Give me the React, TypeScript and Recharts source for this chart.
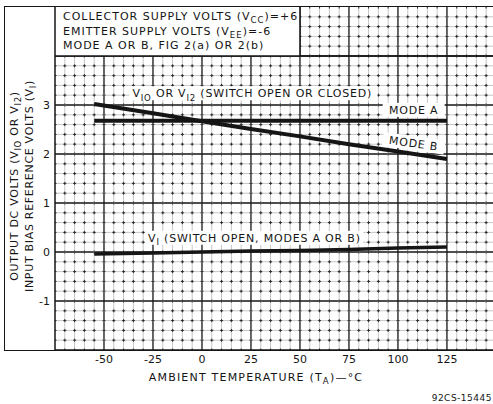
import React from "react";
import {
  LineChart,
  Line,
  XAxis,
  YAxis,
  CartesianGrid,
  ReferenceArea,
  ReferenceLine,
  ReferenceDot,
} from "recharts";

const W = 493;
const H = 404;
const FONT = "'DejaVu Sans', sans-serif";
const INK = "#151515";

// ambient temperature (°C) where values were read
const temps = [-55, -25, 0, 25, 50, 75, 100, 125];
// V10 / V12, mode A
const modeA = [2.68, 2.68, 2.68, 2.68, 2.68, 2.68, 2.68, 2.68];
// V10 / V12, mode B
const modeB = [3.02, 2.83, 2.67, 2.51, 2.36, 2.2, 2.05, 1.9];
// VI, switch open
const vI = [-0.04, -0.02, 0, 0.02, 0.03, 0.05, 0.08, 0.1];

const xTicks = [-50, -25, 0, 25, 50, 75, 100, 125];
const yTicks = [-1, 0, 1, 2, 3];
const yMajor = [-1, 0, 1, 2, 3, 4];

const X_MIN = -75;
const X_MAX = 148.5;
const Y_MIN = -2;
const Y_MAX = 5;
// legend box corner (data units)
const BOX_X = 50;
const BOX_Y = 4;

// fine graph-paper rulings: 5 °C and 0.2 V
const xMinor: number[] = [];
for (let t = -70; t <= 145; t += 5) if (t % 25 !== 0) xMinor.push(t);
const yMinor: number[] = [];
for (let k = -9; k <= 24; k++) if (k % 5 !== 0) yMinor.push(k / 5);

const data = temps.map((t, i) => ({ t, modeA: modeA[i], modeB: modeB[i], vI: vI[i] }));

type Part = string | { sub: string };

function spans(parts: Part[], size: number) {
  const out: React.ReactNode[] = [];
  let down = false;
  parts.forEach((p, i) => {
    if (typeof p === "string") {
      out.push(
        <tspan key={i} dy={down ? -size * 0.3 : undefined} fontSize={size}>
          {p}
        </tspan>,
      );
      down = false;
    } else {
      out.push(
        <tspan key={i} dy={size * 0.3} fontSize={size * 0.78}>
          {p.sub}
        </tspan>,
      );
      down = true;
    }
  });
  return out;
}

function Note(props: any) {
  const { cx, cy, parts, anchor = "start", angle = 0, width } = props;
  const x0 = anchor === "middle" ? cx - width / 2 : cx;
  return (
    <g transform={angle ? `rotate(${angle} ${cx} ${cy})` : undefined}>
      <rect x={x0 - 3} y={cy - 7} width={width + 6} height={14} fill="#fff" />
      <text
        x={cx}
        y={cy + 4}
        textAnchor={anchor}
        fontFamily={FONT}
        fill={INK}
        letterSpacing={0.8}
      >
        {spans(parts, 11)}
      </text>
    </g>
  );
}

function BoxText(props: any) {
  const { x, y } = props.viewBox;
  const lines: Part[][] = [
    ["COLLECTOR SUPPLY VOLTS (V", { sub: "CC" }, ")=+6"],
    ["EMITTER SUPPLY VOLTS (V", { sub: "EE" }, ")=-6"],
    ["MODE A OR B, FIG 2(a) OR 2(b)"],
  ];
  return (
    <g>
      {lines.map((l, i) => (
        <text
          key={i}
          x={x + 8}
          y={y + 13 + i * 14.5}
          fontFamily={FONT}
          fill={INK}
          letterSpacing={1}
        >
          {spans(l, 11)}
        </text>
      ))}
    </g>
  );
}

function YLabel() {
  const cy = 186;
  const rows: { x: number; parts: Part[] }[] = [
    { x: 18, parts: ["OUTPUT DC VOLTS (V", { sub: "IO" }, " OR V", { sub: "I2" }, ")"] },
    { x: 33, parts: ["INPUT BIAS REFERENCE VOLTS (V", { sub: "I" }, ")"] },
  ];
  return (
    <g>
      {rows.map((r, i) => (
        <text
          key={i}
          x={r.x}
          y={cy}
          transform={`rotate(-90 ${r.x} ${cy})`}
          textAnchor="middle"
          fontFamily={FONT}
          fill={INK}
          letterSpacing={0.7}
        >
          {spans(r.parts, 11)}
        </text>
      ))}
    </g>
  );
}

function XLabel() {
  return (
    <g>
      <text x={256} y={381} textAnchor="middle" fontFamily={FONT} fill={INK} letterSpacing={1.2}>
        {spans(["AMBIENT TEMPERATURE (T", { sub: "A" }, ")—°C"], 11)}
      </text>
      <text x={492} y={401} textAnchor="end" fontFamily={FONT} fontSize={9} fill={INK} letterSpacing={0.5}>
        92CS-15445
      </text>
    </g>
  );
}

// faint ruling with dark "+" marks where the fine lines cross
const faint = { stroke: "#c6c6c6", strokeWidth: 1 };
const marks = { stroke: "#2a2a2a", strokeWidth: 1, strokeDasharray: "3 6.8", strokeDashoffset: 1.5 };

function vSeg(t: number) {
  const top = t < BOX_X ? BOX_Y : Y_MAX;
  return [
    { x: t, y: Y_MIN },
    { x: t, y: top },
  ];
}
function hSeg(v: number) {
  const left = v > BOX_Y ? BOX_X : X_MIN;
  return [
    { x: left, y: v },
    { x: X_MAX, y: v },
  ];
}

export default function App() {
  return (
    <div
      style={{
        position: "absolute",
        left: 0,
        top: 0,
        width: W,
        height: H,
        overflow: "hidden",
        background: "#fff",
      }}
    >
      <LineChart width={W} height={H} data={data} margin={{ top: 7, right: 0, left: 0, bottom: 0 }}>
        <CartesianGrid
          verticalValues={xTicks}
          horizontalValues={yMajor}
          stroke={INK}
          strokeWidth={1.3}
        />
        <XAxis
          dataKey="t"
          type="number"
          domain={[X_MIN, X_MAX]}
          ticks={xTicks}
          allowDataOverflow
          height={54}
          tickSize={0}
          tickMargin={5}
          axisLine={{ stroke: INK, strokeWidth: 1.5 }}
          tick={{ fontSize: 11, fontFamily: FONT, fill: INK }}
          label={<XLabel />}
        />
        <YAxis
          type="number"
          domain={[Y_MIN, Y_MAX]}
          ticks={yTicks}
          allowDataOverflow
          width={55}
          tickSize={0}
          tickMargin={5}
          axisLine={{ stroke: INK, strokeWidth: 1.5 }}
          tick={{ fontSize: 11, fontFamily: FONT, fill: INK }}
          label={<YLabel />}
        />
        <ReferenceArea
          x1={X_MIN}
          x2={BOX_X}
          y1={BOX_Y}
          y2={Y_MAX}
          fill="#fff"
          fillOpacity={1}
          stroke="none"
          label={(p: any) => <BoxText {...p} />}
        />
        {xMinor.map((t) => (
          <ReferenceLine key={`fx${t}`} segment={vSeg(t)} {...faint} />
        ))}
        {yMinor.map((v) => (
          <ReferenceLine key={`fy${v}`} segment={hSeg(v)} {...faint} />
        ))}
        {xMinor.map((t) => (
          <ReferenceLine key={`mx${t}`} segment={vSeg(t)} {...marks} />
        ))}
        {yMinor.map((v) => (
          <ReferenceLine key={`my${v}`} segment={hSeg(v)} {...marks} />
        ))}
        <ReferenceLine
          segment={[
            { x: BOX_X, y: BOX_Y },
            { x: BOX_X, y: Y_MAX },
          ]}
          stroke={INK}
          strokeWidth={1.5}
        />
        <ReferenceLine y={BOX_Y} stroke={INK} strokeWidth={1.3} />
        <Line dataKey="modeA" stroke={INK} strokeWidth={4} dot={false} isAnimationActive={false} />
        <Line dataKey="modeB" stroke={INK} strokeWidth={4} dot={false} isAnimationActive={false} />
        <Line dataKey="vI" stroke={INK} strokeWidth={3.5} dot={false} isAnimationActive={false} />
        <ReferenceDot
          x={-35.5}
          y={3.24}
          r={0}
          shape={(p: any) => (
            <Note
              cx={p.cx}
              cy={p.cy}
              width={242}
              parts={["V", { sub: "IO" }, " OR V", { sub: "I2" }, " (SWITCH OPEN OR CLOSED)"]}
            />
          )}
        />
        <ReferenceDot
          x={108}
          y={2.9}
          r={0}
          shape={(p: any) => (
            <Note cx={p.cx} cy={p.cy} width={56} anchor="middle" parts={["MODE A"]} />
          )}
        />
        <ReferenceDot
          x={108}
          y={2.22}
          r={0}
          shape={(p: any) => (
            <Note cx={p.cx} cy={p.cy} width={56} anchor="middle" angle={8} parts={["MODE B"]} />
          )}
        />
        <ReferenceDot
          x={-27.5}
          y={0.29}
          r={0}
          shape={(p: any) => (
            <Note
              cx={p.cx}
              cy={p.cy}
              width={212}
              parts={["V", { sub: "I" }, " (SWITCH OPEN, MODES A OR B)"]}
            />
          )}
        />
      </LineChart>
      <div
        style={{
          position: "absolute",
          left: 4,
          top: 6,
          width: 560,
          height: 345,
          boxSizing: "border-box",
          border: `1.5px solid ${INK}`,
          pointerEvents: "none",
        }}
      />
    </div>
  );
}
